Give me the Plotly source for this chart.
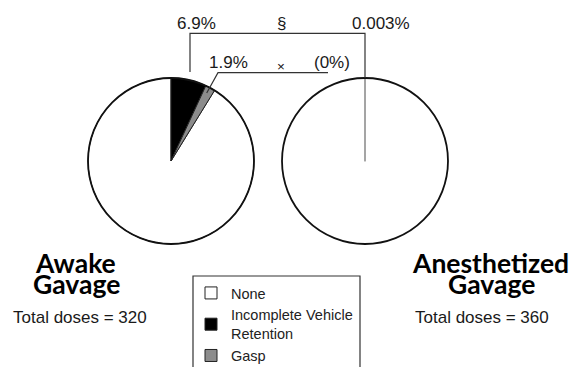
import plotly.graph_objects as go

W, H = 570, 367

# Outcome categories and their share of doses (%) per gavage method
labels = ["None", "Incomplete Vehicle<br>Retention", "Gasp"]
awake_pct = [91.2, 6.9, 1.9]
anesth_pct = [99.997, 0.003, 0.0]
awake_total = 320
anesth_total = 360
slice_colors = ["#ffffff", "#000000", "#8c8c8c"]

SANS = "Liberation Sans"
TITLE_FONT = "Lato"


def px(x):
    return x / W


def py(y):
    return 1 - y / H


def pie_domain(cx, cy, r):
    return dict(x=[px(cx - r), px(cx + r)], y=[py(cy + r), py(cy - r)])


def fmt(v):
    return f"{v:g}%"


left_dom = pie_domain(171, 161, 83)
right_dom = pie_domain(365, 161, 83)

fig = go.Figure()

# Awake gavage pie: slices run clockwise, problem slices placed right of 12 o'clock
fig.add_trace(go.Pie(
    labels=labels, values=awake_pct, sort=False, direction="clockwise",
    rotation=360 * sum(awake_pct[1:]) / sum(awake_pct),
    marker=dict(colors=slice_colors, line=dict(color="#222222", width=1)),
    textinfo="none", domain=left_dom, name="Awake",
    hovertemplate="%{label}: %{value}%<extra></extra>",
))

# Anesthetized gavage pie
fig.add_trace(go.Pie(
    labels=labels, values=anesth_pct, sort=False, direction="clockwise",
    rotation=360 * sum(anesth_pct[1:]) / sum(anesth_pct),
    marker=dict(colors=slice_colors,
                line=dict(color=["rgba(0,0,0,0)", "#6a6a6a", "rgba(0,0,0,0)"],
                          width=[0, 1.2, 0])),
    textinfo="none", domain=right_dom, name="Anesthetized", showlegend=False,
    hovertemplate="%{label}: %{value}%<extra></extra>",
))

# Dark outer rims of both pies
for dom in (left_dom, right_dom):
    fig.add_trace(go.Pie(
        labels=["rim"], values=[1], sort=False,
        marker=dict(colors=["rgba(0,0,0,0)"], line=dict(color="#111111", width=1.8)),
        textinfo="none", domain=dom, showlegend=False, hoverinfo="skip",
    ))

ann = []


def text(s, x, y, size=17, family=SANS, weight="normal", color="#1a1a1a"):
    ann.append(dict(text=s, x=px(x), y=py(y), xref="paper", yref="paper",
                    xanchor="center", yanchor="middle", showarrow=False,
                    font=dict(family=family, size=size, color=color, weight=weight)))


# Comparison labels above the pies
text(fmt(awake_pct[1]), 196, 23.5)
text("§", 281, 23.5)
text(fmt(anesth_pct[1]), 381, 23.5)
text(fmt(awake_pct[2]), 228, 62.5)
text("×", 281, 66.5, size=13.5, color="#111111")
text(f"({fmt(anesth_pct[2])})", 332, 62.5)

# Group titles and dose counts
TS = 26.5
text("Awake", 75, 263, size=TS, family=TITLE_FONT, weight="bold", color="#000")
text("Gavage", 76, 284, size=TS, family=TITLE_FONT, weight="bold", color="#000")
text(f"Total doses = {awake_total}", 80, 317)
text("Anesthetized", 490, 263, size=TS, family=TITLE_FONT, weight="bold", color="#000")
text("Gavage", 491, 284, size=TS, family=TITLE_FONT, weight="bold", color="#000")
text(f"Total doses = {anesth_total}", 481.5, 317)


def path(points):
    return "M" + " L".join(f"{px(x):.5f},{py(y):.5f}" for x, y in points)


shapes = [
    # significance brackets
    dict(type="path", xref="paper", yref="paper",
         path=path([(190, 72), (190, 33.3), (365, 33.3), (365, 78)]),
         line=dict(color="#333333", width=1.2)),
    dict(type="path", xref="paper", yref="paper",
         path=path([(328, 72.7), (218, 72.7), (206.7, 93)]),
         line=dict(color="#333333", width=1.2)),
    # legend frame, running off the bottom edge
    dict(type="rect", xref="paper", yref="paper",
         x0=px(193), x1=px(360), y0=py(390), y1=py(276),
         line=dict(color="#333333", width=1.2), fillcolor="rgba(0,0,0,0)"),
]

fig.update_layout(
    width=W, height=H,
    margin=dict(l=0, r=0, t=0, b=0, autoexpand=False),
    paper_bgcolor="white", plot_bgcolor="white",
    annotations=ann, shapes=shapes,
    legend=dict(x=px(191), y=py(277), xanchor="left", yanchor="top",
                borderwidth=0, bgcolor="rgba(0,0,0,0)",
                font=dict(family=SANS, size=14.5, color="#222222"),
                traceorder="normal"),
)

fig.write_html("out.html")
